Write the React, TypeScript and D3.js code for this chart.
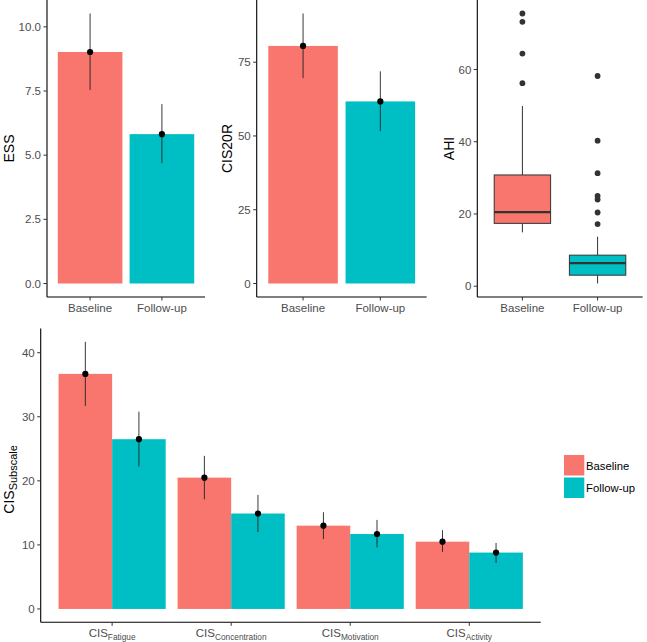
import React from "react";
import * as d3 from "d3";

const groups = ["Baseline", "Follow-up"];
const groupColors = ["#F8766D", "#00BFC4"];

const essMean = [9.02, 5.82];
const essLow = [7.54, 4.69];
const essHigh = [10.52, 6.99];
const essTicks = [0, 2.5, 5, 7.5, 10];

const cisMean = [80.5, 61.7];
const cisLow = [69.6, 51.6];
const cisHigh = [91.5, 71.9];
const cisTicks = [0, 25, 50, 75];

const ahiWhiskerLow = [14.9, 0.75];
const ahiQ1 = [17.4, 3.05];
const ahiMedian = [20.5, 6.4];
const ahiQ3 = [30.8, 8.6];
const ahiWhiskerHigh = [49.9, 13.7];
const ahiOutliers = [
  [56.2, 64.4, 73.2, 75.5],
  [17.2, 20.4, 24.0, 25.0, 31.3, 40.3, 58.2],
];
const ahiTicks = [0, 20, 40, 60];

const subscales = ["Fatigue", "Concentration", "Motivation", "Activity"];
const subBaseMean = [36.7, 20.5, 13.0, 10.5];
const subBaseLow = [31.7, 17.1, 10.9, 8.9];
const subBaseHigh = [41.7, 23.9, 15.1, 12.3];
const subFollowMean = [26.5, 14.9, 11.7, 8.8];
const subFollowLow = [22.2, 12.0, 9.6, 7.2];
const subFollowHigh = [30.8, 17.8, 13.9, 10.3];
const subTicks = [0, 10, 20, 30, 40];

const FONT = "'Liberation Sans', Arial, sans-serif";
const TICK_COLOR = "#4D4D4D";

function expanded(lo: number, hi: number): [number, number] {
  const r = hi - lo;
  return [lo - 0.05 * r, hi + 0.05 * r];
}

type Box = { x0: number; x1: number; y0: number; y1: number };

function YAxis({ box, y, ticks, fmt }: { box: Box; y: any; ticks: number[]; fmt: (v: number) => string }) {
  return (
    <g>
      <line x1={box.x0} x2={box.x0} y1={box.y0} y2={box.y1} stroke="#000" strokeWidth={1.1} />
      {ticks.map((t) => (
        <g key={t}>
          <line x1={box.x0 - 3.5} x2={box.x0} y1={y(t)} y2={y(t)} stroke="#333" strokeWidth={1} />
          <text x={box.x0 - 6} y={y(t)} dy="0.36em" textAnchor="end" fontSize={11.5} fill={TICK_COLOR} fontFamily={FONT}>
            {fmt(t)}
          </text>
        </g>
      ))}
    </g>
  );
}

function XAxisLine({ box, centers }: { box: Box; centers: number[] }) {
  return (
    <g>
      <line x1={box.x0} x2={box.x1} y1={box.y1} y2={box.y1} stroke="#000" strokeWidth={1.1} />
      {centers.map((c, i) => (
        <line key={i} x1={c} x2={c} y1={box.y1} y2={box.y1 + 3.5} stroke="#333" strokeWidth={1} />
      ))}
    </g>
  );
}

function BarPanel({ box, mean, low, high, ticks, fmt, title, titleX }: any) {
  const y = d3.scaleLinear().domain(expanded(0, d3.max(high) as number)).range([box.y1, box.y0]);
  const x = d3.scaleBand<string>().domain(groups).range([box.x0, box.x1]).paddingInner(0.1).paddingOuter(0.15);
  const centers = groups.map((g) => (x(g) as number) + x.bandwidth() / 2);
  return (
    <g>
      {groups.map((g, i) => (
        <rect key={g} x={x(g)} y={y(mean[i])} width={x.bandwidth()} height={y(0) - y(mean[i])} fill={groupColors[i]} />
      ))}
      {groups.map((g, i) => (
        <g key={g}>
          <line x1={centers[i]} x2={centers[i]} y1={y(high[i])} y2={y(low[i])} stroke="#222" strokeWidth={0.9} />
          <circle cx={centers[i]} cy={y(mean[i])} r={3.1} fill="#000" />
        </g>
      ))}
      <YAxis box={box} y={y} ticks={ticks} fmt={fmt} />
      <XAxisLine box={box} centers={centers} />
      {groups.map((g, i) => (
        <text key={g} x={centers[i]} y={box.y1 + 15} textAnchor="middle" fontSize={11.5} fill={TICK_COLOR} fontFamily={FONT}>
          {g}
        </text>
      ))}
      <text transform={`translate(${titleX},${(box.y0 + box.y1) / 2}) rotate(-90)`} textAnchor="middle" fontSize={14} fill="#000" fontFamily={FONT}>
        {title}
      </text>
    </g>
  );
}

function BoxPanel({ box }: { box: Box }) {
  const allVals = [...ahiWhiskerLow, ...ahiWhiskerHigh, ...ahiOutliers.flat()];
  const y = d3
    .scaleLinear()
    .domain(expanded(d3.min(allVals) as number, d3.max(allVals) as number))
    .range([box.y1, box.y0]);
  const x = d3.scalePoint<string>().domain(groups).range([box.x0, box.x1]).padding(0.6);
  const bw = x.step() * 0.75;
  const centers = groups.map((g) => x(g) as number);
  return (
    <g>
      {groups.map((g, i) => {
        const c = centers[i];
        return (
          <g key={g}>
            <line x1={c} x2={c} y1={y(ahiQ3[i])} y2={y(ahiWhiskerHigh[i])} stroke="#333" strokeWidth={1} />
            <line x1={c} x2={c} y1={y(ahiQ1[i])} y2={y(ahiWhiskerLow[i])} stroke="#333" strokeWidth={1} />
            <rect x={c - bw / 2} y={y(ahiQ3[i])} width={bw} height={y(ahiQ1[i]) - y(ahiQ3[i])} fill={groupColors[i]} stroke="#333" strokeWidth={1} />
            <line x1={c - bw / 2} x2={c + bw / 2} y1={y(ahiMedian[i])} y2={y(ahiMedian[i])} stroke="#333" strokeWidth={2.2} />
            {ahiOutliers[i].map((v, j) => (
              <circle key={j} cx={c} cy={y(v)} r={2.9} fill="#333" />
            ))}
          </g>
        );
      })}
      <YAxis box={box} y={y} ticks={ahiTicks} fmt={(v) => String(v)} />
      <XAxisLine box={box} centers={centers} />
      {groups.map((g, i) => (
        <text key={g} x={centers[i]} y={box.y1 + 15} textAnchor="middle" fontSize={11.5} fill={TICK_COLOR} fontFamily={FONT}>
          {g}
        </text>
      ))}
      <text transform={`translate(453.5,${(box.y0 + box.y1) / 2}) rotate(-90)`} textAnchor="middle" fontSize={14} fill="#000" fontFamily={FONT}>
        AHI
      </text>
    </g>
  );
}

function SubscalePanel({ box }: { box: Box }) {
  const y = d3
    .scaleLinear()
    .domain(expanded(0, d3.max([...subBaseHigh, ...subFollowHigh]) as number))
    .range([box.y1, box.y0]);
  const x = d3.scaleBand<string>().domain(subscales).range([box.x0, box.x1]).paddingInner(0.1).paddingOuter(0.15);
  const xi = d3.scaleBand<string>().domain(groups).range([0, x.bandwidth()]).padding(0);
  const centers = subscales.map((s) => (x(s) as number) + x.bandwidth() / 2);
  const series = [
    { mean: subBaseMean, low: subBaseLow, high: subBaseHigh },
    { mean: subFollowMean, low: subFollowLow, high: subFollowHigh },
  ];
  return (
    <g>
      {subscales.map((s, k) =>
        groups.map((g, i) => {
          const bx = (x(s) as number) + (xi(g) as number);
          const m = series[i].mean[k];
          return <rect key={s + g} x={bx} y={y(m)} width={xi.bandwidth()} height={y(0) - y(m)} fill={groupColors[i]} />;
        })
      )}
      {subscales.map((s, k) =>
        groups.map((g, i) => {
          const cx = (x(s) as number) + (xi(g) as number) + xi.bandwidth() / 2;
          return (
            <g key={s + g}>
              <line x1={cx} x2={cx} y1={y(series[i].high[k])} y2={y(series[i].low[k])} stroke="#222" strokeWidth={0.9} />
              <circle cx={cx} cy={y(series[i].mean[k])} r={3.1} fill="#000" />
            </g>
          );
        })
      )}
      <YAxis box={box} y={y} ticks={subTicks} fmt={(v) => String(v)} />
      <XAxisLine box={box} centers={centers} />
      {subscales.map((s, k) => (
        <text key={s} x={centers[k]} y={box.y1 + 14.5} textAnchor="middle" fill={TICK_COLOR} fontFamily={FONT} fontSize={11.5}>
          CIS
          <tspan fontSize={8.3} dy={3}>
            {s}
          </tspan>
        </text>
      ))}
      <text transform={`translate(13.5,${(box.y0 + box.y1) / 2 + 4}) rotate(-90)`} textAnchor="middle" fontSize={14} fill="#000" fontFamily={FONT}>
        CIS
        <tspan fontSize={11} dy={3}>
          Subscale
        </tspan>
      </text>
      {groups.map((g, i) => (
        <g key={g}>
          <rect x={564} y={455 + i * 22.5} width={20.3} height={20.5} fill={groupColors[i]} />
          <text x={586} y={455 + i * 22.5 + 10.5} dy="0.36em" fontSize={11.3} fill="#000" fontFamily={FONT}>
            {g}
          </text>
        </g>
      ))}
    </g>
  );
}

export default function App() {
  return (
    <svg width={647} height={642} style={{ position: "absolute", left: 0, top: 0, background: "#fff" }}>
      <rect x={0} y={0} width={647} height={642} fill="#fff" />
      <BarPanel
        box={{ x0: 47, x1: 205, y0: 0, y1: 297 }}
        mean={essMean}
        low={essLow}
        high={essHigh}
        ticks={essTicks}
        fmt={(v: number) => v.toFixed(1)}
        title="ESS"
        titleX={13.5}
      />
      <BarPanel
        box={{ x0: 256.7, x1: 426.7, y0: 0, y1: 297 }}
        mean={cisMean}
        low={cisLow}
        high={cisHigh}
        ticks={cisTicks}
        fmt={(v: number) => String(v)}
        title="CIS20R"
        titleX={231.7}
      />
      <BoxPanel box={{ x0: 477.3, x1: 642.7, y0: 0, y1: 297 }} />
      <SubscalePanel box={{ x0: 40.7, x1: 540.7, y0: 328.5, y1: 622.3 }} />
    </svg>
  );
}
